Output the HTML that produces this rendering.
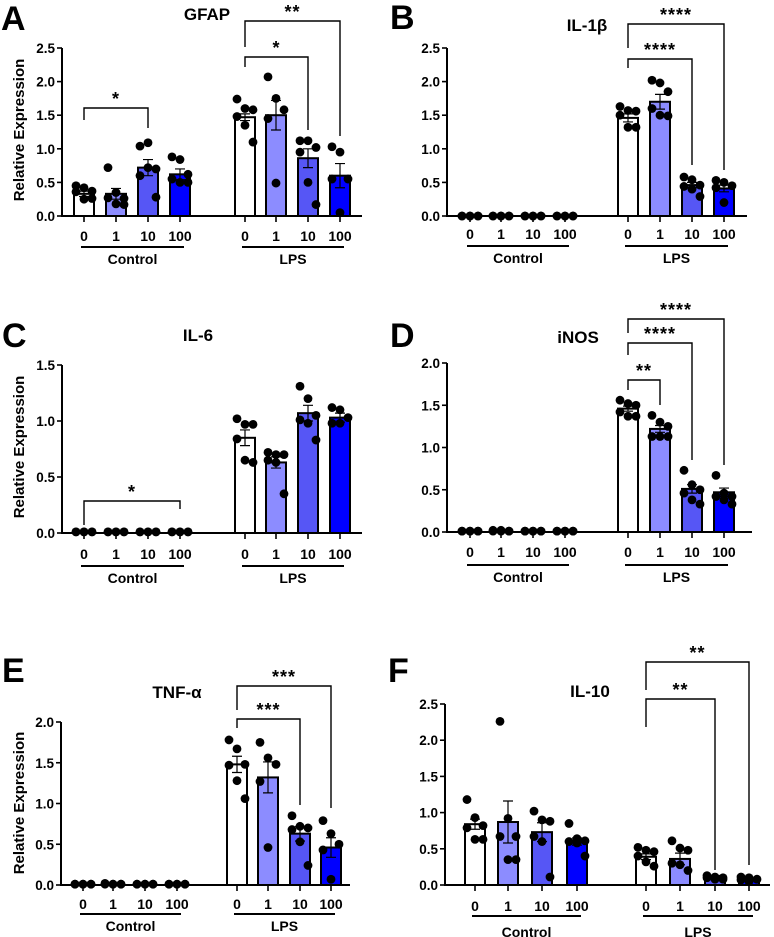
<!DOCTYPE html>
<html><head><meta charset="utf-8"><style>
html,body{margin:0;padding:0;background:#fff;}
svg{display:block;font-family:"Liberation Sans",Arial,sans-serif;font-weight:bold;}
</style></head><body>
<svg id="fig" width="774" height="937" viewBox="0 0 774 937" xmlns="http://www.w3.org/2000/svg"></svg>
<script>
// ---- data ----
const doses = ["0","1","10","100"];
const groups = ["Control","LPS"];
const barColors = ["#ffffff","#8c8cff","#5656f5","#0000ff"];

const gfapMeans = [0.33,0.33,0.72,0.62,1.47,1.50,0.86,0.60];
const gfapSem = [0.04,0.08,0.12,0.08,0.05,0.22,0.14,0.18];
const gfapPts = [[0.45,0.42,0.37,0.36,0.25,0.26],[0.72,0.35,0.26,0.27,0.18,0.17],[1.04,1.09,0.70,0.60,0.72,0.28],[0.88,0.84,0.62,0.55,0.50,0.50],
  [1.74,1.60,1.58,1.48,1.35,1.10],[2.07,1.75,1.58,1.45,0.49],[1.12,1.12,1.02,0.95,0.50,0.17],[1.03,0.95,0.55,0.55,0.05]];

const il1bMeans = [0,0,0,0,1.46,1.70,0.46,0.41];
const il1bSem = [0,0,0,0,0.06,0.11,0.04,0.05];
const il1bPts = [[0,0,0,0,0,0],[0,0,0,0,0,0],[0,0,0,0,0,0],[0,0,0,0,0,0],
  [1.63,1.57,1.56,1.50,1.32,1.32],[2.02,1.98,1.85,1.60,1.50,1.49],[0.58,0.54,0.46,0.44,0.40,0.29],[0.53,0.50,0.45,0.42,0.20]];

const il6Means = [0.01,0.01,0.01,0.01,0.85,0.63,1.07,1.03];
const il6Sem = [0,0,0,0,0.07,0.05,0.07,0.04];
const il6Pts = [[0.01,0.01,0.01,0.01,0.01,0.01],[0.01,0.01,0.01,0.01,0.01,0.01],[0.01,0.01,0.01,0.01,0.01,0.01],[0.01,0.01,0.01,0.01,0.01,0.01],
  [1.02,0.97,0.97,0.84,0.65,0.63],[0.72,0.70,0.70,0.65,0.63,0.35],[1.31,1.20,1.05,1.01,0.98,0.83],[1.12,1.10,1.03,0.98,0.98]];

const inosMeans = [0.01,0.01,0.01,0.01,1.46,1.22,0.51,0.47];
const inosSem = [0,0,0,0,0.03,0.04,0.05,0.05];
const inosPts = [[0.01,0.01,0.01,0.01,0.01,0.01],[0.02,0.02,0.01,0.01,0.01,0.01],[0.01,0.01,0.01,0.01,0.01,0.01],[0.01,0.01,0.01,0.01,0.01,0.01],
  [1.56,1.52,1.50,1.42,1.37,1.37],[1.38,1.30,1.25,1.13,1.13,1.13],[0.73,0.56,0.50,0.46,0.38,0.33],[0.67,0.46,0.42,0.42,0.38,0.33]];

const tnfMeans = [0.01,0.01,0.01,0.01,1.48,1.32,0.63,0.46];
const tnfSem = [0,0,0,0,0.10,0.19,0.09,0.12];
const tnfPts = [[0.01,0.01,0.01,0.01,0.01,0.01],[0.02,0.01,0.01,0.01,0.01,0.01],[0.01,0.01,0.01,0.01,0.01,0.01],[0.01,0.01,0.01,0.01,0.01,0.01],
  [1.78,1.67,1.48,1.47,1.28,1.06],[1.75,1.56,1.48,1.27,0.46],[0.85,0.72,0.70,0.68,0.53,0.24],[0.79,0.63,0.50,0.43,0.07]];

const il10Means = [0.84,0.87,0.73,0.60,0.39,0.36,0.12,0.07];
const il10Sem = [0.07,0.29,0.13,0.05,0.04,0.08,0.01,0.01];
const il10Pts = [[1.18,0.93,0.82,0.79,0.63,0.63],[2.26,0.92,0.67,0.67,0.35,0.35],[1.02,0.90,0.88,0.67,0.60,0.11],[0.85,0.64,0.61,0.60,0.58,0.40],
  [0.52,0.48,0.46,0.40,0.32,0.26],[0.61,0.51,0.48,0.30,0.28,0.20],[0.13,0.11,0.10,0.10,0.08,0.08],[0.11,0.10,0.08,0.07,0.05]];

const gfapSig = [[4,7,"**"],[4,6,"*"],[0,2,"*"]];
const il1bSig = [[4,7,"****"],[4,6,"****"]];
const il6Sig = [[0,3,"*"]];
const inosSig = [[4,7,"****"],[4,6,"****"],[4,5,"**"]];
const tnfSig = [[4,7,"***"],[4,6,"***"]];
const il10Sig = [[4,7,"**"],[4,6,"**"]];

// ---- layout (pixels) ----
const NS = "http://www.w3.org/2000/svg";
const svg = document.getElementById("fig");
function mk(tag, attrs, parent){ const e=document.createElementNS(NS,tag); for(const k in attrs) e.setAttribute(k,attrs[k]); (parent||svg).appendChild(e); return e; }

const panels = [
 {key:"a",letter:"A",title:"GFAP",ytitle:true,ax:62,axEnd:362,y0:216,ppu:67.2,max:2.5,step:0.5,xs:[84,116,148,180,245,276,308,340],tickY:240,lineY:247,grpY:263,letterXY:[1,30],titleXY:[207,20],ytitleXY:[24,130],
  means:gfapMeans,sem:gfapSem,pts:gfapPts,sig:gfapSig,sigGeom:[[21,47,136],[57,67,130],[108,120,128]]},
 {key:"b",letter:"B",title:"IL-1β",ytitle:false,ax:447,axEnd:747,y0:216,ppu:67.2,max:2.5,step:0.5,xs:[470,501,533,565,628,660,692,724],tickY:238,lineY:246,grpY:262,letterXY:[390,29],titleXY:[587,31],
  means:il1bMeans,sem:il1bSem,pts:il1bPts,sig:il1bSig,sigGeom:[[24,48,170],[59,68,165]]},
 {key:"c",letter:"C",title:"IL-6",ytitle:true,ax:62,axEnd:362,y0:533,ppu:112,max:1.5,step:0.5,xs:[84,116,148,180,245,276,308,340],tickY:558,lineY:566,grpY:582,letterXY:[2,347],titleXY:[198,341],ytitleXY:[24,447],
  means:il6Means,sem:il6Sem,pts:il6Pts,sig:il6Sig,sigGeom:[[501,525,509]]},
 {key:"d",letter:"D",title:"iNOS",ytitle:false,ax:447,axEnd:752,y0:532,ppu:84.5,max:2.0,step:0.5,xs:[470,501,533,565,628,660,692,724],tickY:556,lineY:565,grpY:581,letterXY:[390,347],titleXY:[578,343],
  means:inosMeans,sem:inosSem,pts:inosPts,sig:inosSig,sigGeom:[[319,333,465],[343,355,460],[380,390,405]]},
 {key:"e",letter:"E",title:"TNF-α",ytitle:true,ax:61,axEnd:350,y0:885,ppu:81.5,max:2.0,step:0.5,xs:[83,113,145,177,237,268,300,331],tickY:908,lineY:914,grpY:930,letterXY:[2,682],titleXY:[177,698],ytitleXY:[24,803],
  means:tnfMeans,sem:tnfSem,pts:tnfPts,sig:tnfSig,sigGeom:[[686,710,808],[719,728,805]]},
 {key:"f",letter:"F",title:"IL-10",ytitle:false,ax:445,axEnd:770,y0:885,ppu:72.4,max:2.5,step:0.5,xs:[475,508,542,577,646,680,715,749],tickY:910,lineY:916,grpY:936,letterXY:[388,682],titleXY:[590,697],
  means:il10Means,sem:il10Sem,pts:il10Pts,sig:il10Sig,sigGeom:[[662,690,865],[699,727,870]]}
];
const jit = [-8,0,8,-8,0,8];
const BW = 20;

panels.forEach(p=>{
  const g = mk("g",{});
  
  
  const Y = v => p.y0 - v*p.ppu;
  let t = mk("text",{x:p.letterXY[0],y:p.letterXY[1],"font-size":34,fill:"#000"},g); t.textContent=p.letter;
  
  
  t = mk("text",{x:p.titleXY[0],y:p.titleXY[1],"font-size":17,"text-anchor":"middle",fill:"#000"},g); t.textContent=p.title;
  
  
  if(p.ytitle){
    t = mk("text",{x:p.ytitleXY[0],y:p.ytitleXY[1],"font-size":15,"text-anchor":"middle",transform:`rotate(-90 ${p.ytitleXY[0]} ${p.ytitleXY[1]})`},g); t.textContent="Relative Expression";
    
    
  }
  p.means.forEach((m,i)=>{
    const x=p.xs[i], h=m*p.ppu;
    if(h>0.5){
      const r = mk("rect",{x:x-BW/2,y:Y(m),width:BW,height:h,fill:barColors[i%4],stroke:"#000","stroke-width":2},g);
      
      
    }
  });
  p.pts.forEach((arr,i)=>{
    arr.forEach((v,j)=>{
      const c = mk("circle",{cx:p.xs[i]+jit[j%6],cy:Y(v),r:4.4,fill:"#000"},g);
      
      
    });
  });
  p.means.forEach((m,i)=>{
    const s=p.sem[i]; if(s<=0) return;
    const x=p.xs[i];
    const e = mk("path",{d:`M${x} ${Y(m-s)}V${Y(m+s)}M${x-5} ${Y(m+s)}H${x+5}M${x-5} ${Y(m-s)}H${x+5}`,stroke:"#000","stroke-width":1.2,fill:"none"},g);
    
    
  });
  const yTop = Y(p.max);
  let a = mk("path",{d:`M${p.ax} ${yTop}V${p.y0}H${p.axEnd}`,stroke:"#000","stroke-width":2,fill:"none"},g);
  
  
  for(let v=0; v<=p.max+1e-9; v+=p.step){
    mk("line",{x1:p.ax-5,x2:p.ax,y1:Y(v),y2:Y(v),stroke:"#000","stroke-width":1.6},g);
    t = mk("text",{x:p.ax-7,y:Y(v)+5,"font-size":13.5,"text-anchor":"end"},g); t.textContent=v.toFixed(1);
    
    
  }
  p.xs.forEach((x,i)=>{
    mk("line",{x1:x,x2:x,y1:p.y0,y2:p.y0+6,stroke:"#000","stroke-width":1.6},g);
    t = mk("text",{x:x,y:p.tickY+1,"font-size":14,"text-anchor":"middle"},g); t.textContent=doses[i%4];
    
    
  });
  groups.forEach((gn,k)=>{
    const x1=p.xs[k*4]-3, x2=p.xs[k*4+3]+4;
    mk("line",{x1:x1,x2:x2,y1:p.lineY,y2:p.lineY,stroke:"#000","stroke-width":2},g);
    t = mk("text",{x:(x1+x2)/2,y:p.grpY+1,"font-size":14,"text-anchor":"middle"},g); t.textContent=gn;
    
    
  });
  p.sig.forEach((s,k)=>{
    const [i1,i2,stars]=s; const [by,ly,ry]=p.sigGeom[k];
    const x1=p.xs[i1], x2=p.xs[i2];
    const b = mk("path",{d:`M${x1} ${ly}V${by}H${x2}V${ry}`,stroke:"#000","stroke-width":1.4,fill:"none"},g);
    
    
    t = mk("text",{x:(x1+x2)/2,y:by-3,"font-size":18,"text-anchor":"middle","letter-spacing":"1"},g); t.textContent=stars;
    
    
  });
});
</script>
</body></html>
